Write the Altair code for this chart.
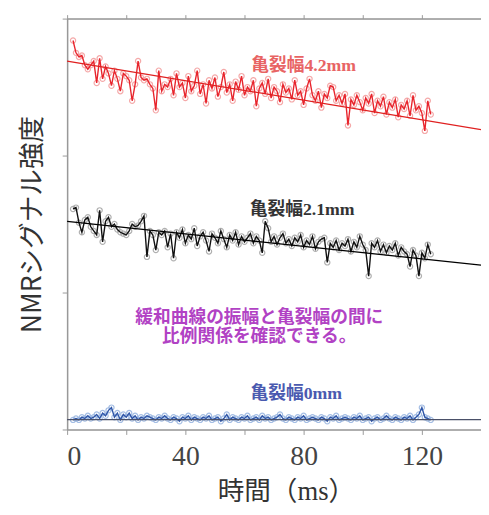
import altair as alt
import pandas as pd

# time axis (ms)
times = list(range(2, 124))

red_vals = [2.84, 2.75, 2.72, 2.73, 2.66, 2.63, 2.66, 2.69, 2.53, 2.71,
            2.56, 2.65, 2.60, 2.51, 2.62, 2.56, 2.47, 2.60, 2.58, 2.55,
            2.40, 2.52, 2.69, 2.57, 2.55, 2.56, 2.52, 2.49, 2.33, 2.62,
            2.47, 2.52, 2.50, 2.56, 2.44, 2.60, 2.50, 2.53, 2.42, 2.58,
            2.47, 2.51, 2.62, 2.45, 2.52, 2.38, 2.55, 2.49, 2.57, 2.43,
            2.50, 2.61, 2.46, 2.52, 2.40, 2.54, 2.48, 2.58, 2.44, 2.50,
            2.47, 2.55, 2.36, 2.49, 2.53, 2.45, 2.56, 2.42, 2.50, 2.47,
            2.39, 2.52, 2.46, 2.49, 2.41, 2.55, 2.44, 2.47, 2.37, 2.49,
            2.56, 2.44, 2.40, 2.47, 2.35, 2.45, 2.42, 2.51, 2.50, 2.40,
            2.44, 2.38, 2.45, 2.22, 2.41, 2.37, 2.44, 2.39, 2.33, 2.42,
            2.38, 2.45, 2.31, 2.40, 2.36, 2.43, 2.30, 2.39, 2.35, 2.41,
            2.28, 2.37, 2.34, 2.40, 2.29, 2.44, 2.33, 2.36, 2.31, 2.18,
            2.40, 2.30]

black_vals = [1.61, 1.62, 1.51, 1.44, 1.53, 1.55, 1.48, 1.45, 1.42, 1.60,
              1.37, 1.52, 1.55, 1.48, 1.50, 1.46, 1.44, 1.43, 1.42, 1.45,
              1.50, 1.48, 1.49, 1.52, 1.56, 1.26, 1.45, 1.42, 1.31, 1.44,
              1.42, 1.45, 1.33, 1.43, 1.25, 1.44, 1.40, 1.46, 1.36, 1.42,
              1.39, 1.47, 1.34, 1.41, 1.44, 1.38, 1.30, 1.43, 1.40, 1.36,
              1.45, 1.39, 1.33, 1.42, 1.38, 1.44, 1.35, 1.41, 1.37, 1.40,
              1.43, 1.36, 1.41, 1.38, 1.29, 1.52, 1.47, 1.37, 1.41, 1.35,
              1.40, 1.43, 1.36, 1.39, 1.34, 1.40, 1.37, 1.42, 1.33, 1.38,
              1.35, 1.41, 1.32, 1.37, 1.39, 1.40, 1.22, 1.36, 1.33, 1.38,
              1.31, 1.36, 1.34, 1.39, 1.30, 1.37, 1.33, 1.41, 1.35, 1.31,
              1.12, 1.36, 1.33, 1.38, 1.30, 1.35, 1.29, 1.34, 1.31, 1.36,
              1.27, 1.33, 1.30, 1.28, 1.19, 1.31, 1.27, 1.12, 1.29, 1.25,
              1.35, 1.28]

blue_vals = [0.07, 0.08, 0.07, 0.09, 0.08, 0.10, 0.08, 0.09, 0.11, 0.08,
             0.12, 0.10, 0.14, 0.16, 0.09, 0.12, 0.07, 0.11, 0.09, 0.12,
             0.08, 0.10, 0.07, 0.09, 0.08, 0.10, 0.09, 0.08, 0.07, 0.09,
             0.08, 0.10, 0.08, 0.07, 0.09, 0.08, 0.06, 0.09, 0.08, 0.10,
             0.07, 0.09, 0.08, 0.07, 0.09, 0.08, 0.10, 0.07, 0.08, 0.09,
             0.06, 0.08, 0.11, 0.07, 0.09, 0.08, 0.07, 0.09, 0.08, 0.10,
             0.07, 0.08, 0.09, 0.07, 0.10, 0.08, 0.09, 0.07, 0.08, 0.09,
             0.11, 0.08, 0.07, 0.09, 0.08, 0.07, 0.09, 0.08, 0.10, 0.07,
             0.08, 0.09, 0.08, 0.07, 0.09, 0.08, 0.06, 0.09, 0.08, 0.10,
             0.07, 0.08, 0.09, 0.08, 0.07, 0.09, 0.08, 0.10, 0.07, 0.08,
             0.09, 0.06, 0.08, 0.09, 0.07, 0.08, 0.10, 0.08, 0.07, 0.09,
             0.08, 0.07, 0.09, 0.08, 0.10, 0.07, 0.09, 0.11, 0.16, 0.09,
             0.08, 0.07]

series_names = ["4.2mm", "2.1mm", "0mm"]

# fitted straight lines (start at 0 ms, end at 140 ms)
fit_t = [0, 140]
fit_red = [2.69, 2.19]
fit_black = [1.52, 1.20]
fit_blue = [0.072, 0.072]

# annotations
label_texts = ["亀裂幅4.2mm", "亀裂幅2.1mm", "緩和曲線の振幅と亀裂幅の間に", "比例関係を確認できる。", "亀裂幅0mm"]
label_t = [80, 79.5, 65, 65, 77.5]
label_v = [2.65, 1.60, 0.81, 0.675, 0.26]
label_colors = ["#e86464", "#333333", "#b142c4", "#b142c4", "#4a5ab0"]

x_ticks = [0, 20, 40, 60, 80, 100, 120, 140]
y_ticks = [0, 1, 2, 3]

rows = []
for name, vals in zip(series_names, [red_vals, black_vals, blue_vals]):
    for t, v in zip(times, vals):
        rows.append({"t": t, "v": v, "s": name})
df = pd.DataFrame(rows)

fit_rows = []
for name, vals in zip(series_names, [fit_red, fit_black, fit_blue]):
    for t, v in zip(fit_t, vals):
        fit_rows.append({"t": t, "v": v, "s": name})
fit_df = pd.DataFrame(fit_rows)

lab_df = pd.DataFrame({"t": label_t, "v": label_v, "text": label_texts, "c": label_colors})

xs = alt.Scale(domain=[0, 140], nice=False, zero=False)
ys = alt.Scale(domain=[0, 3], nice=False, zero=False)

line_colors = alt.Scale(domain=series_names, range=["#e8242c", "#111111", "#2f56a8"])
halo_colors = alt.Scale(domain=series_names, range=["#f4a0a0", "#a8a8a8", "#9cb8e2"])
fit_colors = alt.Scale(domain=series_names, range=["#e02020", "#000000", "#4a5068"])

x_axis = alt.Axis(values=x_ticks, labelExpr="(datum.value % 40 == 0 && datum.value < 140) ? datum.label : ''",
                  title="時間（ms）", grid=False, tickSize=5, labelPadding=9, titlePadding=8,
                  titleX=222, titleAlign="center",
                  labelFont="Liberation Serif", labelFontSize=28, labelColor="#444444",
                  titleFont="Liberation Serif, Noto Sans CJK JP", titleFontSize=27, titleFontWeight="normal",
                  titleColor="#333333", domainColor="#999999", tickColor="#999999", domainWidth=1.5)
y_axis = alt.Axis(values=y_ticks, labels=False, title="NMRシグナル強度", grid=False, tickSize=5,
                  titlePadding=16, titleFont="Noto Sans CJK JP", titleFontSize=27, titleFontWeight="normal",
                  titleColor="#333333", domainColor="#999999", tickColor="#999999", domainWidth=1.5)

halo = alt.Chart(df).mark_point(filled=False, size=28, strokeWidth=1.2, opacity=0.9).encode(
    x=alt.X("t:Q", scale=xs, axis=x_axis),
    y=alt.Y("v:Q", scale=ys, axis=y_axis),
    color=alt.Color("s:N", scale=halo_colors, legend=None),
)

lines = alt.Chart(df).mark_line(strokeWidth=1.4).encode(
    x=alt.X("t:Q", scale=xs, axis=None),
    y=alt.Y("v:Q", scale=ys, axis=None),
    color=alt.Color("s:N", scale=line_colors, legend=None),
)

fits = alt.Chart(fit_df).mark_line(strokeWidth=1.3).encode(
    x=alt.X("t:Q", scale=xs, axis=None),
    y=alt.Y("v:Q", scale=ys, axis=None),
    color=alt.Color("s:N", scale=fit_colors, legend=None),
    detail="s:N",
)

texts = alt.Chart(lab_df).mark_text(font="Liberation Serif, Noto Sans CJK JP", fontSize=18,
                                    fontWeight="bold").encode(
    x=alt.X("t:Q", scale=xs, axis=None),
    y=alt.Y("v:Q", scale=ys, axis=None),
    text="text:N",
    color=alt.Color("c:N", scale=None),
)

top_axis = alt.Chart(pd.DataFrame({"t": [0], "v": [0]})).mark_point(opacity=0).encode(
    x=alt.X("t:Q", scale=xs, axis=alt.Axis(orient="top", values=x_ticks, labels=False, title=None,
                                              grid=False, tickSize=4, domainColor="#999999",
                                              tickColor="#999999", domainWidth=1.5)),
    y=alt.Y("v:Q", scale=ys, axis=None),
)

chart = alt.layer(halo, lines, fits, texts, top_axis).resolve_scale(color="independent").resolve_axis(
    x="independent", y="independent"
).properties(
    width=420, height=417,
    autosize=alt.AutoSizeParams(type="none"),
    padding={"left": 60, "top": 7, "right": 0, "bottom": 82},
).configure_view(stroke="#999999", strokeWidth=1.5).configure(background="white")

chart.save("out.html", embed_options={"renderer": "svg", "actions": False})
